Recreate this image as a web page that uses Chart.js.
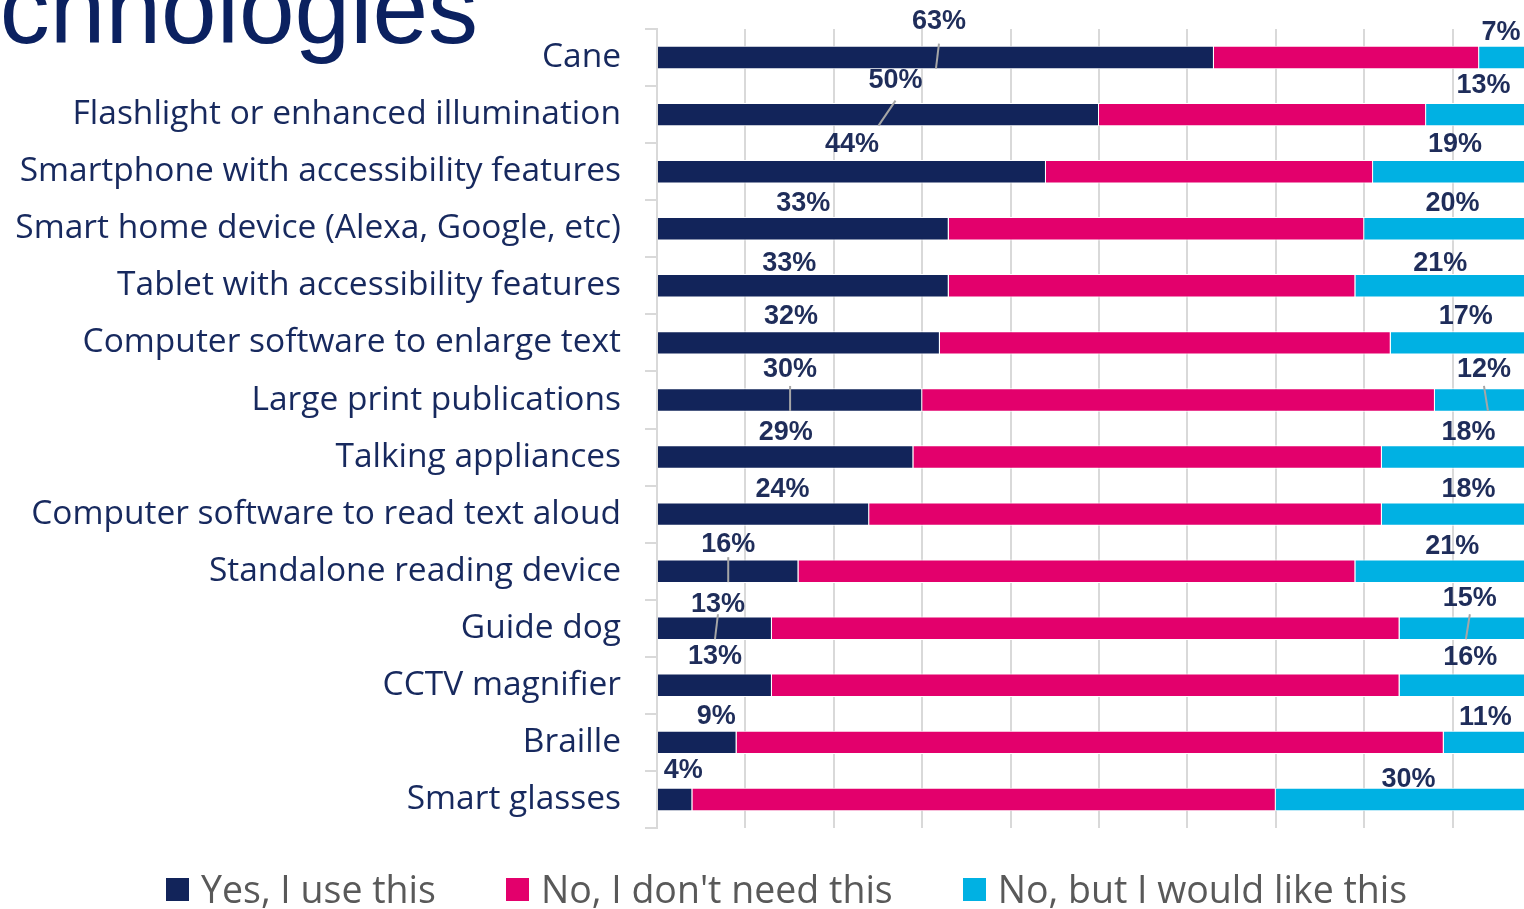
<!DOCTYPE html>
<html>
<head>
<meta charset="utf-8">
<title>Technologies</title>
<script src="https://cdn.jsdelivr.net/npm/chart.js@4.4.1/dist/chart.umd.min.js"></script>
<style>
    html, body { margin: 0; padding: 0; background: #fff; width: 1524px; height: 909px; overflow: hidden; position: relative; }
    #title {
        position: absolute; left: -522px; width: 1000px; top: -42px;
        text-align: right; white-space: nowrap;
        font: 100px/100px 'Liberation Sans', Arial, sans-serif; color: #0b2160;
    }
    #wrap { position: absolute; left: 0; top: 0; width: 1560px; height: 909px; }
    #legend {
        position: absolute; left: 166px; top: 866px; height: 46px;
        display: flex; align-items: center; white-space: nowrap;
        font: 37.5px/46px 'Open Sans', sans-serif; color: #595959;
    }
    #legend .item { display: flex; align-items: center; margin-right: 70px; }
    #legend .box { width: 23px; height: 23px; margin-right: 12px; }
</style>
</head>
<body>
<div id="title">Technologies</div>
<div id="wrap"><canvas id="chart"></canvas></div>
<div id="legend"></div>
<script>
// categories, top to bottom
const categories = [
    'Cane',
    'Flashlight or enhanced illumination',
    'Smartphone with accessibility features',
    'Smart home device (Alexa, Google, etc)',
    'Tablet with accessibility features',
    'Computer software to enlarge text',
    'Large print publications',
    'Talking appliances',
    'Computer software to read text aloud',
    'Standalone reading device',
    'Guide dog',
    'CCTV magnifier',
    'Braille',
    'Smart glasses'
];
const seriesNames = ['Yes, I use this', "No, I don't need this", 'No, but I would like this'];
const yesUse    = [63, 50, 44, 33, 33, 32, 30, 29, 24, 16, 13, 13, 9, 4];
const noNeed    = [30, 37, 37, 47, 46, 51, 58, 53, 58, 63, 71, 71, 80, 66];
const wouldLike = [7, 13, 19, 20, 21, 17, 12, 18, 18, 21, 15, 16, 11, 30];

const colors = ['#12245a', '#e3006c', '#00b1e3'];

// label nudges [dx, dy] from segment centre (style only), leader lines where the label was dragged
const labelNudge = {
    0: [[3,-36],[17,-34],[0,-27],[0,-25],[-14,-22],[-8,-26],[0,-30],[0,-24],[19,-25],[0,-27],[3,-24],[0,-29],[19,-26],[8,-29]],
    2: [[-9,-25],[0,-29],[-2,-27],[0,-25],[-8,-22],[0,-26],[-4,-30],[7,-24],[7,-25],[4,-25],[4,-30],[0,-28],[-7,-25],[0,-20]]
};
const leaders = { 0: [0, 1, 6, 9, 10], 2: [6, 10] };

const barLabels = {
    id: 'barLabels',
    afterDatasetsDraw(chart) {
        const ctx = chart.ctx;
        ctx.save();
        ctx.font = "bold 27px 'Liberation Sans', Arial, sans-serif";
        ctx.textAlign = 'center';
        ctx.textBaseline = 'middle';
        [0, 2].forEach(di => {
            const meta = chart.getDatasetMeta(di);
            const values = chart.data.datasets[di].data;
            meta.data.forEach((bar, i) => {
                const cx = (bar.x + bar.base) / 2;
                const [dx, dy] = labelNudge[di][i];
                const lx = cx + dx;
                if (leaders[di].includes(i)) {
                    ctx.strokeStyle = '#a6a6a6';
                    ctx.lineWidth = 2;
                    ctx.beginPath();
                    ctx.moveTo(lx, bar.y - 14);
                    ctx.lineTo(cx, bar.y + 11);
                    ctx.stroke();
                }
                ctx.fillStyle = '#1f2d5a';
                ctx.fillText(values[i] + '%', lx, bar.y + dy);
            });
        });
        ctx.restore();
    }
};

function buildLegend(chart) {
    const legend = document.getElementById('legend');
    legend.innerHTML = chart.data.datasets.map(ds =>
        `<div class="item"><span class="box" style="background:${ds.backgroundColor}"></span>${ds.label.replace(/'/g, '&#39;')}</div>`
    ).join('');
}

Promise.all([
    document.fonts.load("33px 'Open Sans'"),
    document.fonts.load("bold 27px 'Liberation Sans'")
]).catch(() => {}).then(() => {
    const ctx = document.getElementById('chart').getContext('2d');
    const chart = new Chart(ctx, {
        type: 'bar',
        data: {
            labels: categories,
            datasets: [yesUse, noNeed, wouldLike].map((data, i) => ({
                label: seriesNames[i],
                data: data,
                backgroundColor: colors[i],
                borderColor: '#ffffff',
                borderWidth: 1,
                barPercentage: 0.41,
                categoryPercentage: 1
            }))
        },
        options: {
            indexAxis: 'y',
            responsive: true,
            maintainAspectRatio: false,
            animation: false,
            layout: { padding: { top: 29, right: 19, bottom: 81, left: 0 } },
            scales: {
                x: {
                    stacked: true,
                    min: 0,
                    max: 100,
                    ticks: { display: false, stepSize: 10 },
                    border: { display: false },
                    grid: { color: '#d9d9d9', lineWidth: 2, drawTicks: false },
                    afterFit: s => { s.height = 0; }
                },
                y: {
                    stacked: true,
                    ticks: { font: { family: "'Open Sans'", size: 33.5 }, color: '#17295e', padding: 24 },
                    grid: { offset: true, drawOnChartArea: false, color: '#d9d9d9', lineWidth: 2, tickLength: 12 },
                    border: { color: '#d9d9d9', width: 2 },
                    afterFit: s => { s.width = 657; s.paddingTop = 0; s.paddingBottom = 0; }
                }
            },
            plugins: {
                legend: { display: false },
                tooltip: { enabled: false }
            }
        },
        plugins: [barLabels]
    });
    buildLegend(chart);
});
</script>
</body>
</html>
